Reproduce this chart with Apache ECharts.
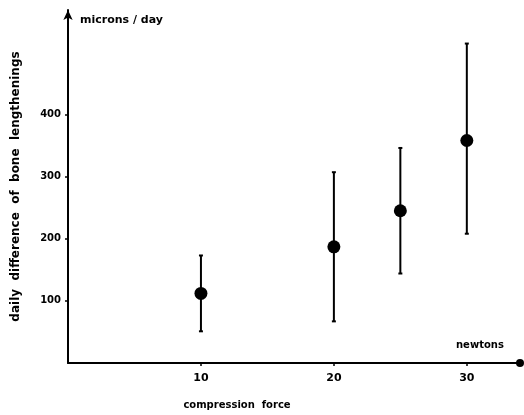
<!DOCTYPE html>
<html><head><meta charset="utf-8">
<script src="https://cdn.jsdelivr.net/npm/echarts@6/dist/echarts.min.js"></script>
<style>html,body{margin:0;padding:0;background:#fff}#c{width:524px;height:415px}</style>
</head><body><div id="c"></div>
<script>
const forces = [10, 20, 25, 30];
const means = [112, 187, 245, 358];
const lows = [51, 67, 144, 208];
const highs = [173, 307, 346, 514];
const xTicks = [10, 20, 30];
const yTicks = [100, 200, 300, 400];

const font = '"DejaVu Sans", sans-serif';
const chart = echarts.init(document.getElementById('c'));
chart.setOption({
  animation: false,
  backgroundColor: '#fff',
  grid: { left: 68, right: 4, top: 10, bottom: 50 },
  xAxis: {
    type: 'value', min: 0, max: 34,
    name: 'compression  force', nameLocation: 'middle', nameGap: 37,
    nameTextStyle: { color: '#000', fontFamily: font, fontWeight: 'bold', fontSize: 10, padding: [0, 114, 0, 0] },
    axisLine: { lineStyle: { color: '#000', width: 2 }, symbol: ['none', 'circle'], symbolSize: [8, 8] },
    axisTick: { show: true, customValues: xTicks, length: 3, lineStyle: { color: '#000', width: 1.5 } },
    axisLabel: { customValues: xTicks, color: '#000', fontFamily: font, fontWeight: 'bold', fontSize: 11, margin: 10 },
    splitLine: { show: false }
  },
  yAxis: {
    type: 'value', min: 0, max: 568, offset: 3,
    name: 'daily  difference  of  bone  lengthenings', nameLocation: 'middle', nameGap: 43,
    nameTextStyle: { color: '#000', fontFamily: font, fontWeight: 'bold', fontSize: 12 },
    axisLine: { lineStyle: { color: '#000', width: 2 }, symbol: ['none', 'arrow'], symbolSize: [7, 10] },
    axisTick: { show: true, customValues: yTicks, length: 3, lineStyle: { color: '#000', width: 1.5 } },
    axisLabel: { customValues: yTicks, color: '#000', fontFamily: font, fontWeight: 'bold', fontSize: 10, margin: 4 },
    splitLine: { show: false }
  },
  graphic: [
    { type: 'text', left: 80, top: 15, style: { text: 'microns / day', fill: '#000', font: 'bold 11px ' + font } },
    { type: 'text', left: 456, top: 340, style: { text: 'newtons', fill: '#000', font: 'bold 10px ' + font } }
  ],
  series: [
    {
      type: 'custom',
      data: forces.map((f, i) => [f, lows[i], highs[i]]),
      renderItem: function (params, api) {
        const lo = api.coord([api.value(0), api.value(1)]);
        const hi = api.coord([api.value(0), api.value(2)]);
        const st = { stroke: '#000', lineWidth: 2 };
        return {
          type: 'group',
          children: [
            { type: 'line', shape: { x1: lo[0], y1: lo[1], x2: hi[0], y2: hi[1] }, style: st },
            { type: 'line', shape: { x1: lo[0] - 2, y1: lo[1], x2: lo[0] + 2, y2: lo[1] }, style: st },
            { type: 'line', shape: { x1: hi[0] - 2, y1: hi[1], x2: hi[0] + 2, y2: hi[1] }, style: st }
          ]
        };
      },
      z: 2
    },
    {
      type: 'scatter',
      data: forces.map((f, i) => [f, means[i]]),
      symbol: 'circle', symbolSize: 13,
      itemStyle: { color: '#000', opacity: 1 },
      z: 3
    }
  ]
});
</script></body></html>
